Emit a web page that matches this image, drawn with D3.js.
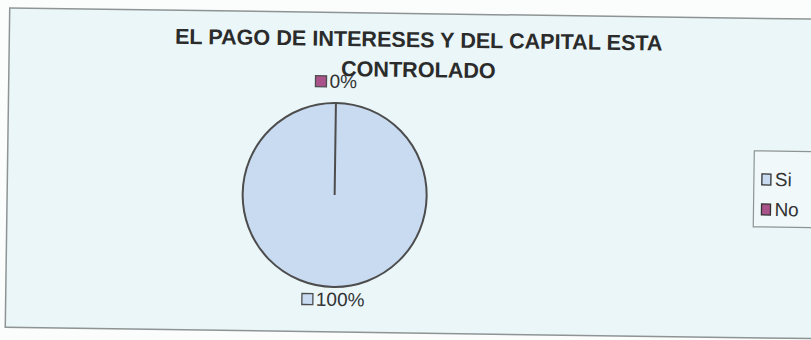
<!DOCTYPE html>
<html>
<head>
<meta charset="utf-8">
<script src="https://cdn.jsdelivr.net/npm/d3@7"></script>
<style>
  html, body { margin: 0; padding: 0; background: #fbfdfd; }
  svg { display: block; font-family: "Liberation Sans", Arial, sans-serif; }
</style>
</head>
<body>
<svg id="chart" width="811" height="340"></svg>
<script>
// Chart data
const titleLines = ["EL PAGO DE INTERESES Y DEL CAPITAL ESTA", "CONTROLADO"];
const categories = ["Si", "No"];
const values = [100, 0];
const colors = ["#c9dbf1", "#a9538a"];

const W = 811, H = 340;
const svg = d3.select("#chart");

// Whole chart sits slightly tilted on the page
const root = svg.append("g").attr("transform", "rotate(0.8, 410, 170)");

// Chart area
root.append("rect")
  .attr("x", 7.5).attr("y", 13.5)
  .attr("width", 830).attr("height", 319.5)
  .attr("fill", "#eaf6f8")
  .attr("stroke", "#8e9494").attr("stroke-width", 1.5);

// Title
root.append("g").selectAll("text").data(titleLines).join("text")
  .attr("x", 417)
  .attr("y", (d, i) => 47 + i * 30)
  .attr("text-anchor", "middle")
  .attr("font-size", 21.6)
  .attr("font-weight", "bold")
  .attr("fill", "#2b2b2b")
  .text(d => d);

// Pie
const cx = 335, cy = 196, r = 92;
const pie = d3.pie().sort(null).value(d => d.value);
const arcs = pie(categories.map((c, i) => ({ name: c, value: values[i], color: colors[i] })));
const arc = d3.arc().innerRadius(0).outerRadius(r);

const pieG = root.append("g").attr("transform", `translate(${cx},${cy})`);
pieG.selectAll("path").data(arcs).join("path")
  .attr("d", d => d.endAngle > d.startAngle ? arc(d) : null)
  .attr("fill", d => d.data.color)
  .attr("stroke", "#4d4d4d")
  .attr("stroke-width", 2)
  .attr("stroke-linejoin", "round");

// Boundary line where the slices meet at 12 o'clock
pieG.append("line")
  .attr("x1", 0).attr("y1", 0)
  .attr("x2", 0).attr("y2", -r)
  .attr("stroke", "#4d4d4d").attr("stroke-width", 2);

// Data labels with a colour key, placed outside the slices
const fmt = d3.format(".0%");
const total = d3.sum(values);
const labelArc = d3.arc().innerRadius(r + 17).outerRadius(r + 17);
const labels = pieG.selectAll("g.lbl").data(arcs).join("g")
  .attr("class", "lbl")
  .attr("transform", d => {
    const [x, y] = labelArc.centroid(d);
    return `translate(${x},${y})`;
  });
labels.each(function(d) {
  const g = d3.select(this);
  const txt = fmt(d.data.value / total);
  const t = g.append("text")
    .attr("font-size", 19)
    .attr("fill", "#333")
    .attr("y", 2)
    .text(txt);
  const tw = t.node().getComputedTextLength();
  const sq = 11, gap = 3;
  const totalW = sq + gap + tw;
  g.append("rect")
    .attr("x", -totalW / 2).attr("y", -10)
    .attr("width", sq).attr("height", sq)
    .attr("fill", d.data.color)
    .attr("stroke", "#4d4d4d").attr("stroke-width", 1.3);
  t.attr("x", -totalW / 2 + sq + gap);
});

// Legend
const lg = root.append("g").attr("transform", "translate(754,146)");
lg.append("rect")
  .attr("x", 0).attr("y", 0)
  .attr("width", 90).attr("height", 76)
  .attr("fill", "#f1f8f9")
  .attr("stroke", "#8e9494").attr("stroke-width", 1.2);
const items = lg.selectAll("g.item").data(categories).join("g")
  .attr("class", "item")
  .attr("transform", (d, i) => `translate(8,${35 + i * 30})`);
items.append("rect")
  .attr("x", 0).attr("y", -12)
  .attr("width", 9).attr("height", 11)
  .attr("fill", (d, i) => colors[i])
  .attr("stroke", "#333").attr("stroke-width", 1.3);
items.append("text")
  .attr("x", 13).attr("y", 0)
  .attr("font-size", 19)
  .attr("fill", "#333")
  .text(d => d);
</script>
</body>
</html>
